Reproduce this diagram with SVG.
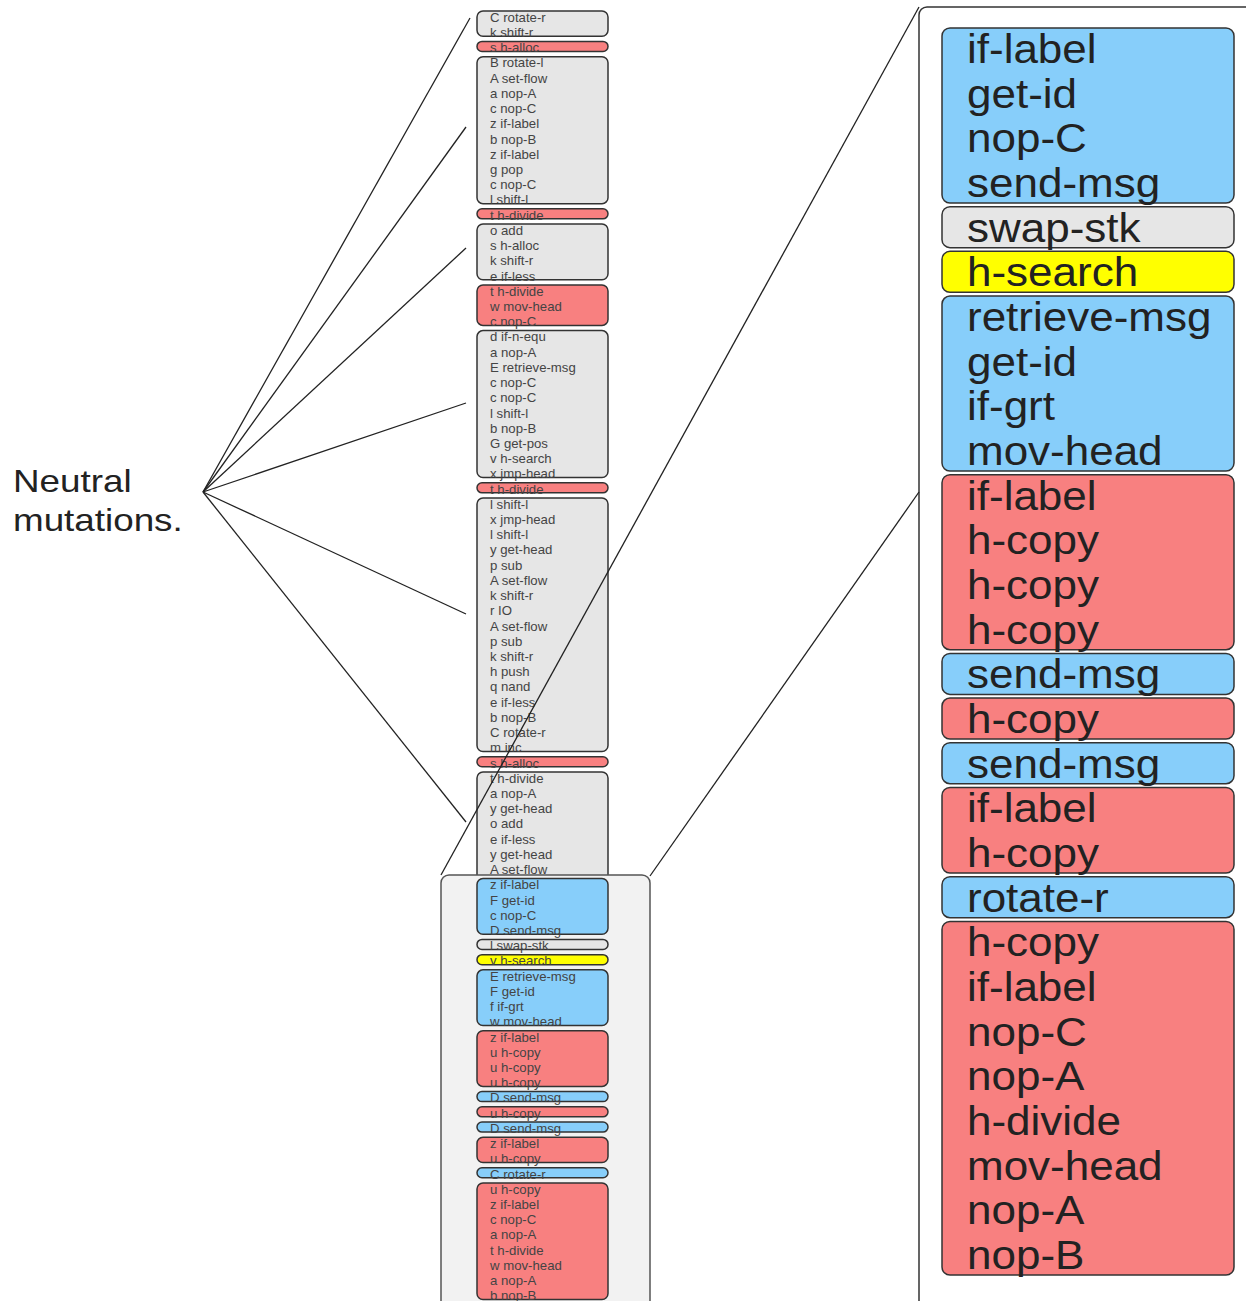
<svg xmlns="http://www.w3.org/2000/svg" width="1246" height="1301" viewBox="0 0 1246 1301">
<style>
.g{fill:#E6E6E6;stroke:#333;stroke-width:1.5}
.r{fill:#F88080;stroke:#333;stroke-width:1.5}
.b{fill:#87CEFA;stroke:#333;stroke-width:1.5}
.y{fill:#FFFF00;stroke:#333;stroke-width:1.5}
.lt{font-family:"Liberation Sans",Arial,sans-serif;font-size:12px;fill:#444}
.rt{font-family:"Liberation Sans",Arial,sans-serif;font-size:40px;fill:#222}
.lab{font-family:"Liberation Sans",Arial,sans-serif;font-size:32px;fill:#222}
.ln{stroke:#222;stroke-width:1.3;fill:none}
</style>
<rect width="1246" height="1301" fill="#fff"/>
<g id="label">
<text class="lab" transform="translate(13,0) scale(1.15,1)"><tspan x="0" y="492">Neutral</tspan><tspan x="0" y="531">mutations.</tspan></text>
</g>
<g id="n1"><rect class="g" x="477" y="11" width="131" height="25.22" rx="6"/>
<text class="lt" transform="translate(490,0) scale(1.1,1)"><tspan x="0" y="21.8">C rotate-r</tspan><tspan x="0" y="37.02">k shift-r</tspan></text></g>
<g id="n2"><rect class="r" x="477" y="41.44" width="131" height="10" rx="5"/>
<text class="lt" transform="translate(490,0) scale(1.1,1)"><tspan x="0" y="52.24">s h-alloc</tspan></text></g>
<g id="n3"><rect class="g" x="477" y="56.66" width="131" height="146.98" rx="6"/>
<text class="lt" transform="translate(490,0) scale(1.1,1)"><tspan x="0" y="67.46">B rotate-l</tspan><tspan x="0" y="82.68">A set-flow</tspan><tspan x="0" y="97.9">a nop-A</tspan><tspan x="0" y="113.12">c nop-C</tspan><tspan x="0" y="128.34">z if-label</tspan><tspan x="0" y="143.56">b nop-B</tspan><tspan x="0" y="158.78">z if-label</tspan><tspan x="0" y="174">g pop</tspan><tspan x="0" y="189.22">c nop-C</tspan><tspan x="0" y="204.44">l shift-l</tspan></text></g>
<g id="n4"><rect class="r" x="477" y="208.86" width="131" height="10" rx="5"/>
<text class="lt" transform="translate(490,0) scale(1.1,1)"><tspan x="0" y="219.66">t h-divide</tspan></text></g>
<g id="n5"><rect class="g" x="477" y="224.08" width="131" height="55.66" rx="6"/>
<text class="lt" transform="translate(490,0) scale(1.1,1)"><tspan x="0" y="234.88">o add</tspan><tspan x="0" y="250.1">s h-alloc</tspan><tspan x="0" y="265.32">k shift-r</tspan><tspan x="0" y="280.54">e if-less</tspan></text></g>
<g id="n6"><rect class="r" x="477" y="284.96" width="131" height="40.44" rx="6"/>
<text class="lt" transform="translate(490,0) scale(1.1,1)"><tspan x="0" y="295.76">t h-divide</tspan><tspan x="0" y="310.98">w mov-head</tspan><tspan x="0" y="326.2">c nop-C</tspan></text></g>
<g id="n7"><rect class="g" x="477" y="330.62" width="131" height="146.98" rx="6"/>
<text class="lt" transform="translate(490,0) scale(1.1,1)"><tspan x="0" y="341.42">d if-n-equ</tspan><tspan x="0" y="356.64">a nop-A</tspan><tspan x="0" y="371.86">E retrieve-msg</tspan><tspan x="0" y="387.08">c nop-C</tspan><tspan x="0" y="402.3">c nop-C</tspan><tspan x="0" y="417.52">l shift-l</tspan><tspan x="0" y="432.74">b nop-B</tspan><tspan x="0" y="447.96">G get-pos</tspan><tspan x="0" y="463.18">v h-search</tspan><tspan x="0" y="478.4">x jmp-head</tspan></text></g>
<g id="n8"><rect class="r" x="477" y="482.82" width="131" height="10" rx="5"/>
<text class="lt" transform="translate(490,0) scale(1.1,1)"><tspan x="0" y="493.62">t h-divide</tspan></text></g>
<g id="n9"><rect class="g" x="477" y="498.04" width="131" height="253.52" rx="6"/>
<text class="lt" transform="translate(490,0) scale(1.1,1)"><tspan x="0" y="508.84">l shift-l</tspan><tspan x="0" y="524.06">x jmp-head</tspan><tspan x="0" y="539.28">l shift-l</tspan><tspan x="0" y="554.5">y get-head</tspan><tspan x="0" y="569.72">p sub</tspan><tspan x="0" y="584.94">A set-flow</tspan><tspan x="0" y="600.16">k shift-r</tspan><tspan x="0" y="615.38">r IO</tspan><tspan x="0" y="630.6">A set-flow</tspan><tspan x="0" y="645.82">p sub</tspan><tspan x="0" y="661.04">k shift-r</tspan><tspan x="0" y="676.26">h push</tspan><tspan x="0" y="691.48">q nand</tspan><tspan x="0" y="706.7">e if-less</tspan><tspan x="0" y="721.92">b nop-B</tspan><tspan x="0" y="737.14">C rotate-r</tspan><tspan x="0" y="752.36">m inc</tspan></text></g>
<g id="n10"><rect class="r" x="477" y="756.78" width="131" height="10" rx="5"/>
<text class="lt" transform="translate(490,0) scale(1.1,1)"><tspan x="0" y="767.58">s h-alloc</tspan></text></g>
<g id="n11"><rect class="g" x="477" y="772" width="131" height="110" rx="6"/>
<text class="lt" transform="translate(490,0) scale(1.1,1)"><tspan x="0" y="782.8">t h-divide</tspan><tspan x="0" y="798.02">a nop-A</tspan><tspan x="0" y="813.24">y get-head</tspan><tspan x="0" y="828.46">o add</tspan><tspan x="0" y="843.68">e if-less</tspan><tspan x="0" y="858.9">y get-head</tspan><tspan x="0" y="874.12">A set-flow</tspan></text></g>
<g id="selection"><rect x="441" y="875" width="209" height="450" rx="8" fill="#F2F2F2" stroke="#555" stroke-width="1.5"/></g>
<g id="s1"><rect class="b" x="477" y="878.54" width="131" height="55.66" rx="6"/>
<text class="lt" transform="translate(490,0) scale(1.1,1)"><tspan x="0" y="889.34">z if-label</tspan><tspan x="0" y="904.56">F get-id</tspan><tspan x="0" y="919.78">c nop-C</tspan><tspan x="0" y="935">D send-msg</tspan></text></g>
<g id="s2"><rect class="g" x="477" y="939.42" width="131" height="10" rx="5"/>
<text class="lt" transform="translate(490,0) scale(1.1,1)"><tspan x="0" y="950.22">l swap-stk</tspan></text></g>
<g id="s3"><rect class="y" x="477" y="954.64" width="131" height="10" rx="5"/>
<text class="lt" transform="translate(490,0) scale(1.1,1)"><tspan x="0" y="965.44">v h-search</tspan></text></g>
<g id="s4"><rect class="b" x="477" y="969.86" width="131" height="55.66" rx="6"/>
<text class="lt" transform="translate(490,0) scale(1.1,1)"><tspan x="0" y="980.66">E retrieve-msg</tspan><tspan x="0" y="995.88">F get-id</tspan><tspan x="0" y="1011.1">f if-grt</tspan><tspan x="0" y="1026.32">w mov-head</tspan></text></g>
<g id="s5"><rect class="r" x="477" y="1030.74" width="131" height="55.66" rx="6"/>
<text class="lt" transform="translate(490,0) scale(1.1,1)"><tspan x="0" y="1041.54">z if-label</tspan><tspan x="0" y="1056.76">u h-copy</tspan><tspan x="0" y="1071.98">u h-copy</tspan><tspan x="0" y="1087.2">u h-copy</tspan></text></g>
<g id="s6"><rect class="b" x="477" y="1091.62" width="131" height="10" rx="5"/>
<text class="lt" transform="translate(490,0) scale(1.1,1)"><tspan x="0" y="1102.42">D send-msg</tspan></text></g>
<g id="s7"><rect class="r" x="477" y="1106.84" width="131" height="10" rx="5"/>
<text class="lt" transform="translate(490,0) scale(1.1,1)"><tspan x="0" y="1117.64">u h-copy</tspan></text></g>
<g id="s8"><rect class="b" x="477" y="1122.06" width="131" height="10" rx="5"/>
<text class="lt" transform="translate(490,0) scale(1.1,1)"><tspan x="0" y="1132.86">D send-msg</tspan></text></g>
<g id="s9"><rect class="r" x="477" y="1137.28" width="131" height="25.22" rx="6"/>
<text class="lt" transform="translate(490,0) scale(1.1,1)"><tspan x="0" y="1148.08">z if-label</tspan><tspan x="0" y="1163.3">u h-copy</tspan></text></g>
<g id="s10"><rect class="b" x="477" y="1167.72" width="131" height="10" rx="5"/>
<text class="lt" transform="translate(490,0) scale(1.1,1)"><tspan x="0" y="1178.52">C rotate-r</tspan></text></g>
<g id="s11"><rect class="r" x="477" y="1182.94" width="131" height="116.54" rx="6"/>
<text class="lt" transform="translate(490,0) scale(1.1,1)"><tspan x="0" y="1193.74">u h-copy</tspan><tspan x="0" y="1208.96">z if-label</tspan><tspan x="0" y="1224.18">c nop-C</tspan><tspan x="0" y="1239.4">a nop-A</tspan><tspan x="0" y="1254.62">t h-divide</tspan><tspan x="0" y="1269.84">w mov-head</tspan><tspan x="0" y="1285.06">a nop-A</tspan><tspan x="0" y="1300.28">b nop-B</tspan></text></g>
<g id="zoompanel"><rect x="919" y="7" width="400" height="1400" rx="8" fill="#fff" stroke="#333" stroke-width="1.5"/></g>
<g id="z1"><rect class="b" x="942" y="28" width="292" height="175.01" rx="8"/>
<text class="rt" transform="translate(967,0) scale(1.1,1)"><tspan x="0" y="63">if-label</tspan><tspan x="0" y="107.67">get-id</tspan><tspan x="0" y="152.34">nop-C</tspan><tspan x="0" y="197.01">send-msg</tspan></text></g>
<g id="z2"><rect class="g" x="942" y="206.68" width="292" height="41" rx="8"/>
<text class="rt" transform="translate(967,0) scale(1.1,1)"><tspan x="0" y="241.68">swap-stk</tspan></text></g>
<g id="z3"><rect class="y" x="942" y="251.35" width="292" height="41" rx="8"/>
<text class="rt" transform="translate(967,0) scale(1.1,1)"><tspan x="0" y="286.35">h-search</tspan></text></g>
<g id="z4"><rect class="b" x="942" y="296.02" width="292" height="175.01" rx="8"/>
<text class="rt" transform="translate(967,0) scale(1.1,1)"><tspan x="0" y="331.02">retrieve-msg</tspan><tspan x="0" y="375.69">get-id</tspan><tspan x="0" y="420.36">if-grt</tspan><tspan x="0" y="465.03">mov-head</tspan></text></g>
<g id="z5"><rect class="r" x="942" y="474.7" width="292" height="175.01" rx="8"/>
<text class="rt" transform="translate(967,0) scale(1.1,1)"><tspan x="0" y="509.7">if-label</tspan><tspan x="0" y="554.37">h-copy</tspan><tspan x="0" y="599.04">h-copy</tspan><tspan x="0" y="643.71">h-copy</tspan></text></g>
<g id="z6"><rect class="b" x="942" y="653.38" width="292" height="41" rx="8"/>
<text class="rt" transform="translate(967,0) scale(1.1,1)"><tspan x="0" y="688.38">send-msg</tspan></text></g>
<g id="z7"><rect class="r" x="942" y="698.05" width="292" height="41" rx="8"/>
<text class="rt" transform="translate(967,0) scale(1.1,1)"><tspan x="0" y="733.05">h-copy</tspan></text></g>
<g id="z8"><rect class="b" x="942" y="742.72" width="292" height="41" rx="8"/>
<text class="rt" transform="translate(967,0) scale(1.1,1)"><tspan x="0" y="777.72">send-msg</tspan></text></g>
<g id="z9"><rect class="r" x="942" y="787.39" width="292" height="85.67" rx="8"/>
<text class="rt" transform="translate(967,0) scale(1.1,1)"><tspan x="0" y="822.39">if-label</tspan><tspan x="0" y="867.06">h-copy</tspan></text></g>
<g id="z10"><rect class="b" x="942" y="876.73" width="292" height="41" rx="8"/>
<text class="rt" transform="translate(967,0) scale(1.1,1)"><tspan x="0" y="911.73">rotate-r</tspan></text></g>
<g id="z11"><rect class="r" x="942" y="921.4" width="292" height="353.69" rx="8"/>
<text class="rt" transform="translate(967,0) scale(1.1,1)"><tspan x="0" y="956.4">h-copy</tspan><tspan x="0" y="1001.07">if-label</tspan><tspan x="0" y="1045.74">nop-C</tspan><tspan x="0" y="1090.41">nop-A</tspan><tspan x="0" y="1135.08">h-divide</tspan><tspan x="0" y="1179.75">mov-head</tspan><tspan x="0" y="1224.42">nop-A</tspan><tspan x="0" y="1269.09">nop-B</tspan></text></g>
<g id="connectors">
<line class="ln" x1="203" y1="492" x2="470" y2="18"/>
<line class="ln" x1="203" y1="492" x2="466" y2="127"/>
<line class="ln" x1="203" y1="492" x2="466" y2="248"/>
<line class="ln" x1="203" y1="492" x2="466" y2="403"/>
<line class="ln" x1="203" y1="492" x2="466" y2="614"/>
<line class="ln" x1="203" y1="492" x2="466" y2="822"/>
<line class="ln" x1="441" y1="875" x2="919" y2="7"/>
<line class="ln" x1="650" y1="876" x2="919" y2="492"/>
</g>
</svg>
